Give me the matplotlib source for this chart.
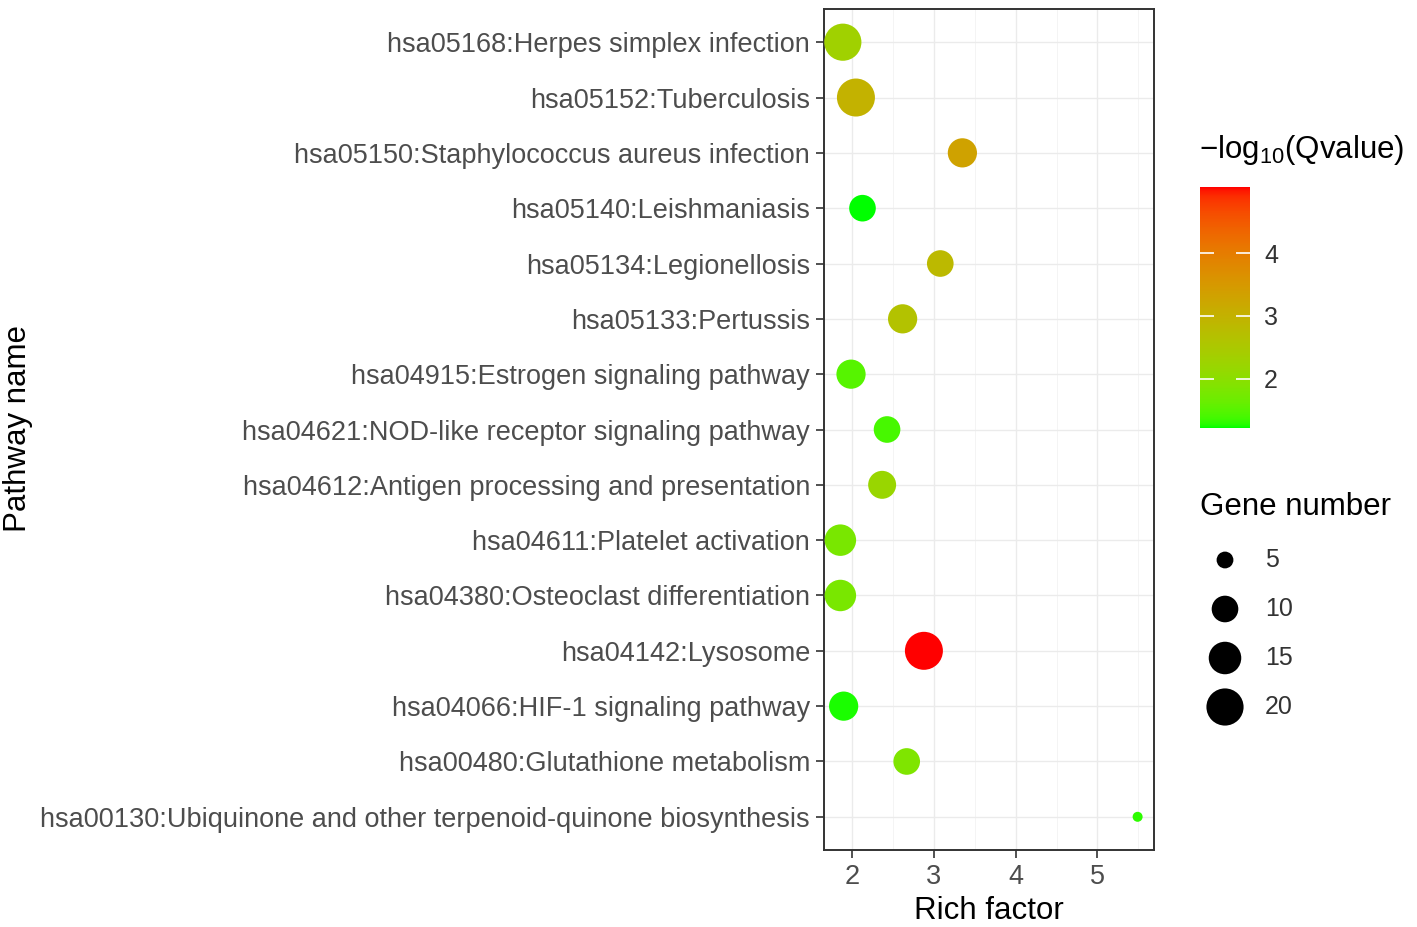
import numpy as np
import matplotlib
matplotlib.use("Agg")
import matplotlib.pyplot as plt
from matplotlib.colors import ListedColormap, Normalize
from matplotlib.cm import ScalarMappable

# ---------------- data ----------------
pathways = [
    "hsa05168:Herpes simplex infection",
    "hsa05152:Tuberculosis",
    "hsa05150:Staphylococcus aureus infection",
    "hsa05140:Leishmaniasis",
    "hsa05134:Legionellosis",
    "hsa05133:Pertussis",
    "hsa04915:Estrogen signaling pathway",
    "hsa04621:NOD-like receptor signaling pathway",
    "hsa04612:Antigen processing and presentation",
    "hsa04611:Platelet activation",
    "hsa04380:Osteoclast differentiation",
    "hsa04142:Lysosome",
    "hsa04066:HIF-1 signaling pathway",
    "hsa00480:Glutathione metabolism",
    "hsa00130:Ubiquinone and other terpenoid-quinone biosynthesis",
]
rich_factor = [1.89, 2.05, 3.35, 2.13, 3.08, 2.62, 1.99, 2.43, 2.37,
               1.86, 1.86, 2.88, 1.90, 2.67, 5.49]
gene_number = [20, 21, 12, 10, 10, 12, 12, 10, 11, 14, 14, 21, 12, 10, 4]
neg_log10_q = [2.3, 3.0, 3.3, 1.22, 2.85, 2.65, 1.5, 1.4, 2.2,
               1.8, 1.8, 5.05, 1.25, 1.85, 1.3]

x_ticks = [2, 3, 4, 5]
cbar_ticks = [2, 3, 4]
size_breaks = [5, 10, 15, 20]

# ---------------- styling helpers ----------------
plt.rcParams['font.family'] = ['Liberation Sans', 'DejaVu Sans']
plt.rcParams['mathtext.fontset'] = 'custom'
plt.rcParams['mathtext.rm'] = 'Liberation Sans'
plt.rcParams['mathtext.it'] = 'Liberation Sans'

W, H, DPI = 1417, 927, 100

_M = np.array([[0.4124564, 0.3575761, 0.1804375],
               [0.2126729, 0.7151522, 0.0721750],
               [0.0193339, 0.1191920, 0.9503041]])
_WHITE = np.array([0.95047, 1.0, 1.08883])


def _srgb_to_lab(rgb):
    rgb = np.asarray(rgb, float)
    lin = np.where(rgb <= 0.04045, rgb / 12.92, ((rgb + 0.055) / 1.055) ** 2.4)
    xyz = _M @ lin / _WHITE
    d = 6 / 29
    f = np.where(xyz > d ** 3, np.cbrt(xyz), xyz / (3 * d * d) + 4 / 29)
    return np.array([116 * f[1] - 16, 500 * (f[0] - f[1]), 200 * (f[1] - f[2])])


def _lab_to_srgb(lab):
    L, a, b = lab
    d = 6 / 29
    fy = (L + 16) / 116
    fx = fy + a / 500
    fz = fy - b / 200
    finv = lambda t: t ** 3 if t > d else 3 * d * d * (t - 4 / 29)
    xyz = np.array([finv(fx), finv(fy), finv(fz)]) * _WHITE
    lin = np.clip(np.linalg.inv(_M) @ xyz, 0, 1)
    return np.where(lin <= 0.0031308, 12.92 * lin, 1.055 * lin ** (1 / 2.4) - 0.055)


lab_lo = _srgb_to_lab([0, 1, 0])
lab_hi = _srgb_to_lab([1, 0, 0])
cmap = ListedColormap([_lab_to_srgb(lab_lo + (lab_hi - lab_lo) * t)
                       for t in np.linspace(0, 1, 256)])
norm = Normalize(vmin=min(neg_log10_q), vmax=max(neg_log10_q))

gmin, gmax = min(gene_number), max(gene_number)


def marker_area(v):
    v = np.asarray(v, float)
    d_px = 10 + 28 * np.sqrt((v - gmin) / (gmax - gmin))
    return (d_px * 72 / DPI) ** 2


# ---------------- figure ----------------
fig = plt.figure(figsize=(W / DPI, H / DPI), dpi=DPI)
fig.patch.set_facecolor('white')

ax = fig.add_axes([824 / W, 1 - 850 / H, 330 / W, 841 / H])
n = len(pathways)
ypos = np.arange(n, 0, -1)
ax.scatter(rich_factor, ypos, s=marker_area(gene_number),
           c=neg_log10_q, cmap=cmap, norm=norm, linewidths=0, zorder=3)

ax.set_xlim(1.66, 5.69)
ax.set_ylim(0.4, n + 0.6)
ax.set_xticks(x_ticks)
ax.set_xticks([2.5, 3.5, 4.5, 5.5], minor=True)
ax.set_yticks(ypos)
ax.set_yticklabels(pathways)
ax.grid(True, which='major', color='#EBEBEB', linewidth=1.0, zorder=0)
ax.grid(True, which='minor', axis='x', color='#F4F4F4', linewidth=0.7, zorder=0)
ax.set_axisbelow(True)
for sp in ax.spines.values():
    sp.set_color('#333333')
    sp.set_linewidth(1.4)
ax.tick_params(axis='both', which='major', length=6, width=1.2, color='#333333',
               labelsize=19.5, labelcolor='#4D4D4D', pad=4)
ax.tick_params(axis='x', which='minor', length=0)

fig.text(989 / W, 1 - 911 / H, 'Rich factor', fontsize=22.5, color='black',
         ha='center', va='center')
fig.text(18 / W, 1 - 429 / H, 'Pathway name', fontsize=22.5, color='black',
         ha='center', va='center', rotation=90)

# ---------------- colour bar ----------------
cax = fig.add_axes([1200 / W, 1 - 428 / H, 50 / W, 241 / H])
cb = fig.colorbar(ScalarMappable(norm=norm, cmap=cmap), cax=cax, ticks=cbar_ticks)
cb.outline.set_visible(False)
cax.tick_params(direction='in', color='white', length=10, width=1.2,
                left=True, right=True, labelleft=False, labelright=True,
                labelsize=18, labelcolor='#333333', pad=10)
fig.text(1199 / W, 1 - 150 / H, '\u2212log$_{10}$(Qvalue)', fontsize=22.5,
         ha='left', va='center', color='black')

# ---------------- size legend ----------------
fig.text(1200 / W, 1 - 507 / H, 'Gene number', fontsize=22.5,
         ha='left', va='center', color='black')
lax = fig.add_axes([0, 0, 1, 1], facecolor='none')
lax.set_xlim(0, W)
lax.set_ylim(H, 0)
lax.axis('off')
leg_y = [560 + 49 * i for i in range(len(size_breaks))]
lax.scatter([1225] * len(size_breaks), leg_y, s=marker_area(size_breaks),
            color='black', linewidths=0)
for yy, b in zip(leg_y, size_breaks):
    lax.text(1265, yy, str(b), fontsize=18, ha='left', va='center', color='#333333')

fig.savefig('out.png', dpi=DPI, facecolor='white')
